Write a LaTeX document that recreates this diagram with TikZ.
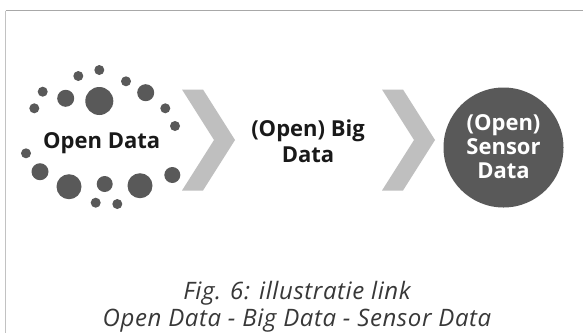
\documentclass[tikz,border=0pt]{standalone}
\usepackage{fontspec}
\setmainfont{Open Sans}
\begin{document}
\begin{tikzpicture}[x=1pt,y=-1pt,
  dot/.style={circle,fill=dotgray,inner sep=0pt,minimum size=#1},
  chevron/.style={fill=chevgray,draw=none},
  label/.style={font=\bfseries\fontsize{22}{25.6}\selectfont,align=center,text=black!90,anchor=base,inner sep=0pt},
  caption/.style={font=\itshape\fontsize{24}{27.5}\selectfont\addfontfeature{LetterSpace=2.5},align=center,text=black!78,anchor=base,inner sep=0pt}]
\definecolor{dotgray}{HTML}{595959}
\definecolor{chevgray}{HTML}{BFBFBF}
\definecolor{framegray}{HTML}{A8A8A8}
\useasboundingbox (0,0) rectangle (583,333);
\fill[white] (0,0) rectangle (583,333);
% frame
\draw[framegray!70,line width=1.4pt] (5.5,10.5) -- (5.5,333);
\draw[framegray,line width=1.4pt] (5.5,10.5) -- (583,10.5);

% ring of dots around "Open Data"
\foreach \x/\y/\d [count=\i] in {
  99.3/70/10, 78.3/76/10, 126/81.3/10, 42.7/91.7/10, 65.7/98.3/17,
  99.3/101/28, 145.7/92.7/17, 34.3/108.3/10, 165.3/108.3/10, 175/126/10,
  26/153.3/10, 40/171.7/17, 69/186.7/25, 104.7/184/16, 140/185.7/25,
  172.3/175/16, 95.7/202.7/10, 117.3/204/10}
  \node[dot=\d pt] (d\i) at (\x,\y) {};
\node[label] (open) at (101.7,148.3) {Open Data};

% chevrons
\foreach \s/\n in {0/a,200/b} {
  \coordinate (chev\n) at (182+\s,89.5);
  \fill[chevron] (chev\n) -- ++(21,0) -- ++(32,50.5) -- ++(-32,50.5)
    -- ++(-21,0) -- ++(32,-50.5) -- cycle;
}

% multi-line labels are anchored at the baseline of their last line
\node[label] (big) at (308,162.3) {(Open) Big\\Data};

\node[circle,fill=dotgray,minimum size=120pt,inner sep=0pt] (sensor) at (503.5,147.5) {};
\node[label,text=white] (sensortext) at (503.5,178.3) {(Open)\\[-1.6pt]Sensor\\[-1.6pt]Data};

\node[caption] (cap) at (297,326.5) {Fig. 6: illustratie link\\Open Data - Big Data - Sensor Data};
\end{tikzpicture}
\end{document}
